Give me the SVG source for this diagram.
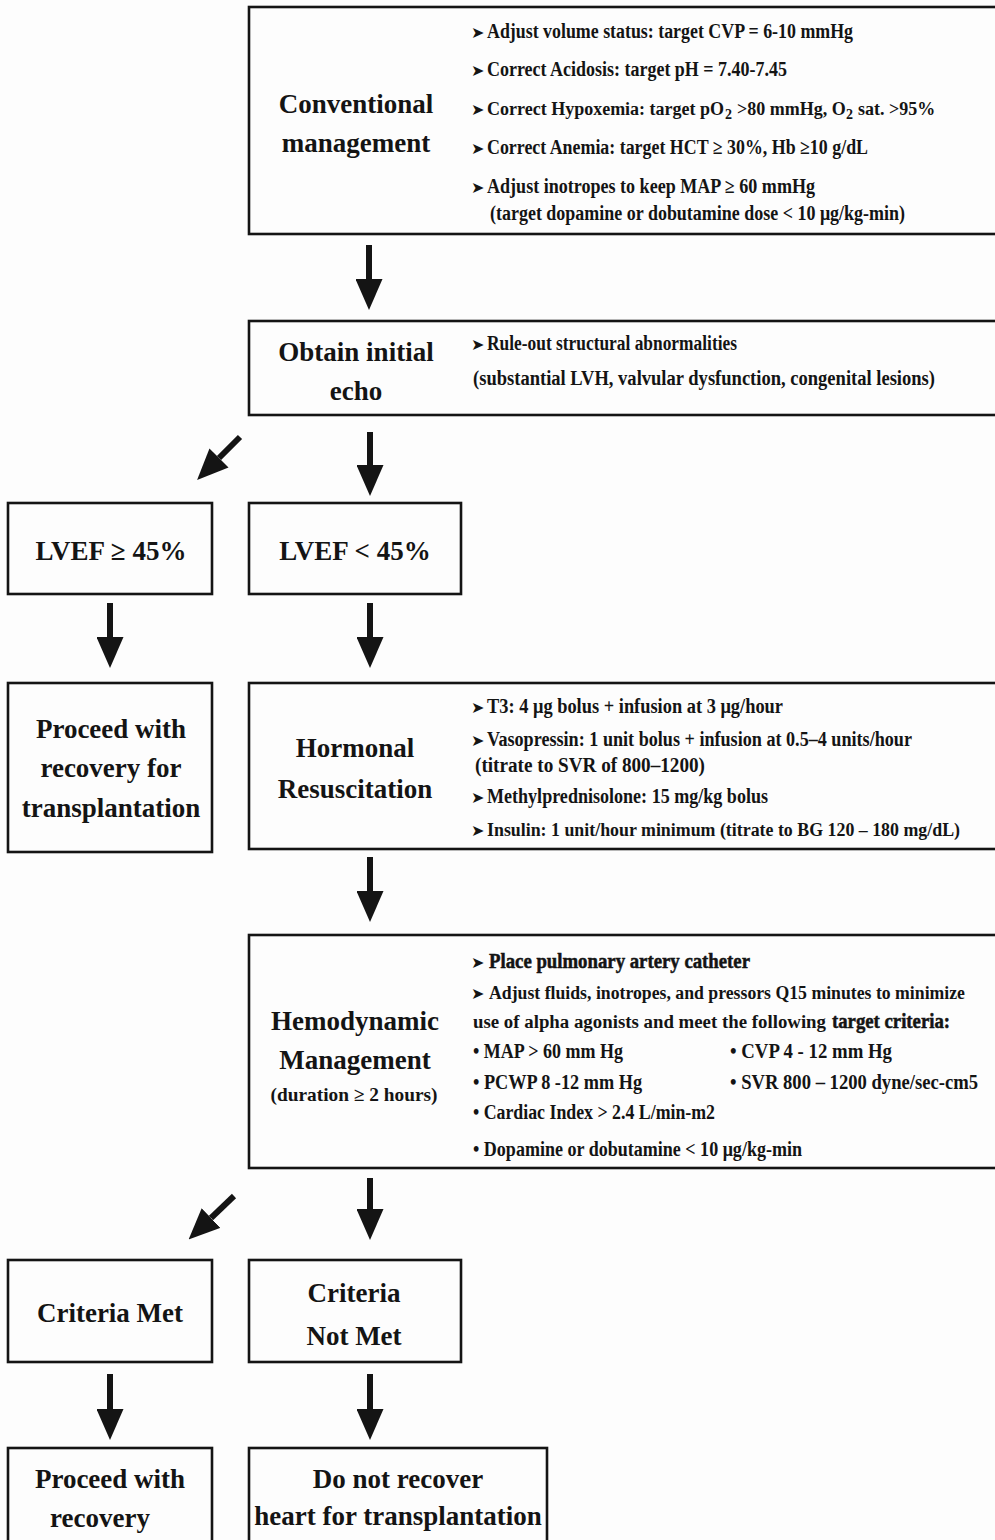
<svg xmlns="http://www.w3.org/2000/svg" width="995" height="1540" viewBox="0 0 995 1540">
<style>
.box{fill:none;stroke:#141414;stroke-width:2.6}
.big{font-family:"Liberation Serif","Times New Roman",serif;font-weight:bold;font-size:27px;fill:#141414;text-anchor:middle}
.sm{font-family:"Liberation Serif","Times New Roman",serif;font-weight:bold;font-size:20px;fill:#141414}
.sm18{font-family:"Liberation Serif","Times New Roman",serif;font-weight:bold;font-size:18px;fill:#141414}
.sub{font-family:"Liberation Serif","Times New Roman",serif;font-weight:bold;font-size:14px;fill:#141414}
.dur{font-family:"Liberation Serif","Times New Roman",serif;font-weight:bold;font-size:19px;fill:#141414;text-anchor:middle}
.bul{font-family:"DejaVu Sans",sans-serif;font-size:16px;fill:#141414}
.heavy{stroke:#141414;stroke-width:0.5}
.shaft{stroke:#141414;stroke-width:6;fill:none}
</style>
<defs>
<marker id="ah" markerUnits="userSpaceOnUse" markerWidth="31" markerHeight="27" refX="0" refY="13.5" orient="auto">
<path d="M0,0 L31,13.5 L0,27 Z" fill="#141414"/>
</marker>
</defs>
<rect width="995" height="1540" fill="#fdfdfd"/>

<g id="conventional">
<rect class="box" x="249" y="7" width="760" height="227"/>
<text class="big" x="356" y="113">Conventional</text>
<text class="big" x="356" y="152">management</text>
<text class="bul" x="471" y="38">➤</text>
<text class="sm" x="487" y="38" textLength="366" lengthAdjust="spacingAndGlyphs">Adjust volume status: target CVP = 6-10 mmHg</text>
<text class="bul" x="471" y="76">➤</text>
<text class="sm" x="487" y="76" textLength="300" lengthAdjust="spacingAndGlyphs">Correct Acidosis: target pH = 7.40-7.45</text>
<text class="bul" x="471" y="115">➤</text>
<text class="sm18" x="487" y="115">Correct Hypoxemia: target pO</text>
<text class="sub" x="725" y="119">2</text>
<text class="sm18" x="737" y="115">&gt;80 mmHg, O</text>
<text class="sub" x="846" y="119">2</text>
<text class="sm18" x="858" y="115">sat. &gt;95%</text>
<text class="bul" x="471" y="154">➤</text>
<text class="sm" x="487" y="154" textLength="381" lengthAdjust="spacingAndGlyphs">Correct Anemia: target HCT ≥ 30%, Hb ≥10 g/dL</text>
<text class="bul" x="471" y="193">➤</text>
<text class="sm" x="487" y="193" textLength="328" lengthAdjust="spacingAndGlyphs">Adjust inotropes to keep MAP ≥ 60 mmHg</text>
<text class="sm" x="490" y="220" textLength="415" lengthAdjust="spacingAndGlyphs">(target dopamine or dobutamine dose &lt; 10 μg/kg-min)</text>
</g>

<g id="echo">
<rect class="box" x="249" y="321" width="760" height="94"/>
<text class="big" x="356" y="361">Obtain initial</text>
<text class="big" x="356" y="400">echo</text>
<text class="bul" x="471" y="350">➤</text>
<text class="sm" x="487" y="350" textLength="250" lengthAdjust="spacingAndGlyphs">Rule-out structural abnormalities</text>
<text class="sm" x="473" y="385" textLength="462" lengthAdjust="spacingAndGlyphs">(substantial LVH, valvular dysfunction, congenital lesions)</text>
</g>

<g id="lvef-ge">
<rect class="box" x="8" y="503" width="204" height="91"/>
<text class="big" x="111" y="560">LVEF ≥ 45%</text>
</g>

<g id="lvef-lt">
<rect class="box" x="249" y="503" width="212" height="91"/>
<text class="big" x="355" y="560">LVEF &lt; 45%</text>
</g>

<g id="proceed-transplant">
<rect class="box" x="8" y="683" width="204" height="169"/>
<text class="big" x="111" y="738">Proceed with</text>
<text class="big" x="111" y="777">recovery for</text>
<text class="big" x="111" y="817">transplantation</text>
</g>

<g id="hormonal">
<rect class="box" x="249" y="683" width="760" height="166"/>
<text class="big" x="355" y="757">Hormonal</text>
<text class="big" x="355" y="798">Resuscitation</text>
<text class="bul" x="471" y="713">➤</text>
<text class="sm" x="487" y="713" textLength="296" lengthAdjust="spacingAndGlyphs">T3:  4 μg bolus + infusion at 3 μg/hour</text>
<text class="bul" x="471" y="746">➤</text>
<text class="sm" x="487" y="746" textLength="425" lengthAdjust="spacingAndGlyphs">Vasopressin:  1 unit bolus + infusion at 0.5–4 units/hour</text>
<text class="sm" x="475" y="772" textLength="230" lengthAdjust="spacingAndGlyphs">(titrate to SVR of 800–1200)</text>
<text class="bul" x="471" y="803">➤</text>
<text class="sm" x="487" y="803" textLength="281" lengthAdjust="spacingAndGlyphs">Methylprednisolone: 15 mg/kg bolus</text>
<text class="bul" x="471" y="836">➤</text>
<text class="sm18" x="487" y="836" textLength="473" lengthAdjust="spacingAndGlyphs">Insulin: 1 unit/hour minimum (titrate to BG 120 – 180 mg/dL)</text>
</g>

<g id="hemodynamic">
<rect class="box" x="249" y="935" width="760" height="233"/>
<text class="big" x="355" y="1030">Hemodynamic</text>
<text class="big" x="355" y="1069">Management</text>
<text class="dur" x="354" y="1101" textLength="167" lengthAdjust="spacingAndGlyphs">(duration ≥ 2 hours)</text>
<text class="bul" x="471" y="968">➤</text>
<text class="sm heavy" x="489" y="968" textLength="261" lengthAdjust="spacingAndGlyphs">Place pulmonary artery catheter</text>
<text class="bul" x="471" y="999">➤</text>
<text class="sm18" x="489" y="999" textLength="476" lengthAdjust="spacingAndGlyphs">Adjust fluids, inotropes, and pressors Q15 minutes to minimize</text>
<text class="sm18" x="473" y="1028" textLength="353" lengthAdjust="spacingAndGlyphs">use of alpha agonists and meet the following</text>
<text class="sm heavy" x="832" y="1028" textLength="118" lengthAdjust="spacingAndGlyphs">target criteria:</text>
<text class="sm" x="473" y="1058" textLength="150" lengthAdjust="spacingAndGlyphs">• MAP &gt; 60 mm Hg</text>
<text class="sm" x="730" y="1058" textLength="162" lengthAdjust="spacingAndGlyphs">• CVP 4 - 12 mm Hg</text>
<text class="sm" x="473" y="1089" textLength="169" lengthAdjust="spacingAndGlyphs">• PCWP 8 -12 mm Hg</text>
<text class="sm" x="730" y="1089" textLength="248" lengthAdjust="spacingAndGlyphs">• SVR 800 – 1200 dyne/sec-cm5</text>
<text class="sm" x="473" y="1119" textLength="242" lengthAdjust="spacingAndGlyphs">• Cardiac Index &gt; 2.4 L/min-m2</text>
<text class="sm" x="473" y="1156" textLength="329" lengthAdjust="spacingAndGlyphs">• Dopamine or dobutamine &lt; 10 μg/kg-min</text>
</g>

<g id="criteria-met">
<rect class="box" x="8" y="1260" width="204" height="102"/>
<text class="big" x="110" y="1322">Criteria Met</text>
</g>

<g id="criteria-not-met">
<rect class="box" x="249" y="1260" width="212" height="102"/>
<text class="big" x="354" y="1302">Criteria</text>
<text class="big" x="354" y="1345">Not Met</text>
</g>

<g id="proceed-recovery">
<rect class="box" x="8" y="1448" width="204" height="100"/>
<text class="big" x="110" y="1488">Proceed with</text>
<text class="big" x="100" y="1527">recovery</text>
</g>

<g id="do-not-recover">
<rect class="box" x="249" y="1448" width="298" height="100"/>
<text class="big" x="398" y="1488">Do not recover</text>
<text class="big" x="398" y="1525">heart for transplantation</text>
</g>

<g id="connectors">
<line class="shaft" x1="369" y1="245" x2="369" y2="279" marker-end="url(#ah)"/>
<line class="shaft" x1="370" y1="432" x2="370" y2="465" marker-end="url(#ah)"/>
<line class="shaft" x1="240" y1="437" x2="219" y2="458" marker-end="url(#ah)"/>
<line class="shaft" x1="110" y1="603" x2="110" y2="637" marker-end="url(#ah)"/>
<line class="shaft" x1="370" y1="603" x2="370" y2="637" marker-end="url(#ah)"/>
<line class="shaft" x1="370" y1="857" x2="370" y2="891" marker-end="url(#ah)"/>
<line class="shaft" x1="370" y1="1178" x2="370" y2="1209" marker-end="url(#ah)"/>
<line class="shaft" x1="234" y1="1196" x2="211" y2="1218" marker-end="url(#ah)"/>
<line class="shaft" x1="110" y1="1374" x2="110" y2="1409" marker-end="url(#ah)"/>
<line class="shaft" x1="370" y1="1374" x2="370" y2="1409" marker-end="url(#ah)"/>
</g>
</svg>
